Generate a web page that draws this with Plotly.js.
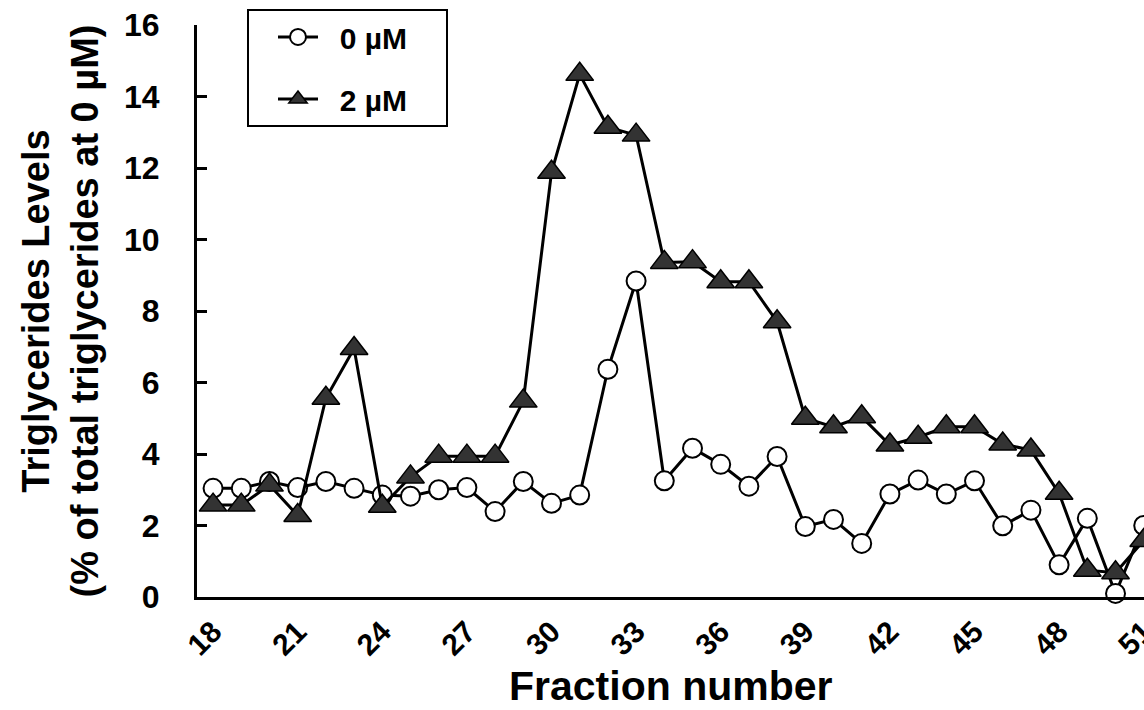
<!DOCTYPE html>
<html>
<head>
<meta charset="utf-8">
<script src="https://cdn.plot.ly/plotly-3.0.1.min.js"></script>
<style>
  html, body { margin: 0; padding: 0; background: #fff; }
  #chart { width: 1144px; height: 710px; }
</style>
</head>
<body>
<div id="chart"></div>
<script>
// Fraction numbers
const fractions = [18,19,20,21,22,23,24,25,26,27,28,29,30,31,32,33,34,35,36,37,38,39,40,41,42,43,44,45,46,47,48,49,50,51];

// 0 µM (open circles)
const tg0uM = [3.04,3.04,3.23,3.06,3.23,3.04,2.85,2.82,3.0,3.06,2.39,3.23,2.62,2.85,6.37,8.84,
               3.25,4.16,3.71,3.1,3.93,1.97,2.17,1.5,2.88,3.27,2.88,3.25,1.99,2.43,0.9,2.2,0.1,2.0];

// 2 µM (filled triangles)
const tg2uM = [2.57,2.57,3.13,2.28,5.56,6.95,2.54,3.36,3.94,3.94,3.94,5.48,11.88,14.62,13.14,12.92,
               9.36,9.38,8.82,8.82,7.7,5.0,4.76,5.04,4.25,4.47,4.76,4.76,4.28,4.11,2.9,0.75,0.68,1.58];

// Tick labels
const xTickVals = [18,21,24,27,30,33,36,39,42,45,48,51];
const yTickVals = [0,2,4,6,8,10,12,14,16];

const seriesNames = ['0 \u00b5M', '2 \u00b5M'];
const xTitle = 'Fraction number';
const yTitle = 'Triglycerides Levels<br>(% of total triglycerides at 0 \u00b5M)';

const FONT = 'Liberation Sans, Arial, sans-serif';
const PAD = '\u00a0\u00a0';

const traces = [
  {
    x: fractions, y: tg0uM, name: PAD + seriesNames[0] + PAD + PAD, legendgroup: 'a',
    type: 'scatter', mode: 'lines+markers', cliponaxis: false,
    line: { color: '#000', width: 3 },
    marker: { symbol: 'circle', size: 19, color: '#fff', line: { color: '#000', width: 2 } }
  },
  {
    x: fractions, y: tg2uM, name: PAD + seriesNames[1] + PAD + PAD, legendgroup: 'b',
    type: 'scatter', mode: 'lines+markers', cliponaxis: false,
    line: { color: '#000', width: 3 },
    marker: { symbol: 'triangle-up', size: 24, color: '#333', line: { color: '#000', width: 1.5 } }
  }
];

const layout = {
  width: 1144, height: 710,
  paper_bgcolor: '#fff', plot_bgcolor: '#fff',
  margin: { l: 197, r: 0, t: 25, b: 113 },
  font: { family: FONT, color: '#000' },
  showlegend: true,
  legend: {
    x: 0.0528, y: 1.028, xanchor: 'left', yanchor: 'top',
    bgcolor: '#fff', bordercolor: '#000', borderwidth: 2,
    font: { family: FONT, size: 30, color: '#000', weight: 'bold' },
    tracegroupgap: 20, traceorder: 'grouped',
    itemwidth: 40, indentation: 24
  },
  xaxis: {
    range: [17.43, 51.01],
    tickvals: xTickVals, ticktext: xTickVals.map(String),
    tickangle: -45, ticks: '', ticklabelstandoff: 2, ticklabeloverflow: 'allow',
    tickfont: { family: FONT, size: 30, weight: 'bold' },
    showgrid: false, zeroline: false,
    showline: true, linecolor: '#000', linewidth: 3
  },
  yaxis: {
    range: [0, 16],
    tickvals: yTickVals, ticktext: yTickVals.map(String),
    ticks: 'inside', ticklen: 10, tickwidth: 3, tickcolor: '#000',
    ticklabelstandoff: 28,
    tickfont: { family: FONT, size: 32, weight: 'bold' },
    showgrid: false, zeroline: false,
    showline: true, linecolor: '#000', linewidth: 3,
    title: { text: yTitle, font: { family: FONT, size: 38, weight: 'bold' }, standoff: 14 }
  },
  annotations: [{
    text: xTitle, xref: 'paper', yref: 'paper',
    x: 0.5, y: -0.2, xanchor: 'center', yanchor: 'bottom',
    showarrow: false,
    font: { family: FONT, size: 41, weight: 'bold', color: '#000' }
  }]
};

Plotly.newPlot('chart', traces, layout, { staticPlot: true, displayModeBar: false });
</script>
</body>
</html>
